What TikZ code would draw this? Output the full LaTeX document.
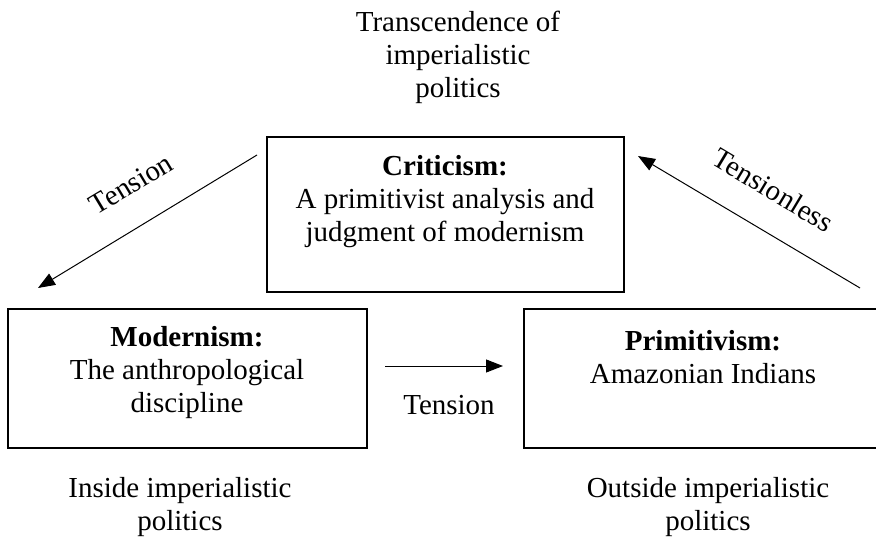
\documentclass[tikz,border=0pt]{standalone}
\usepackage{fontspec}
\setmainfont{Liberation Serif}
\usetikzlibrary{arrows.meta}
\begin{document}
\begin{tikzpicture}[x=1pt,y=-1pt,
  box/.style={draw,line width=1.3pt,minimum width=#1,inner sep=0pt},
  txt/.style={align=center,inner sep=0pt,font=\fontsize{29}{33}\selectfont},
  arr/.style={line width=1pt,-{Triangle[length=17pt,width=13pt]}}]
\useasboundingbox (0,0) rectangle (876,538);
\clip (0,0) rectangle (876,538);
\fill[white] (0,0) rectangle (876,538);
% boxes
\node[box=357pt,minimum height=155pt] (crit) at (445.5,214.5) {};
\node[box=359pt,minimum height=139pt] (mod) at (187.5,378.5) {};
\node[box=359pt,minimum height=139pt] (prim) at (703.5,378.5) {};
% texts
\node[txt] (critT) at (445,202) {\textbf{Criticism:}\\A primitivist analysis and\\judgment of modernism};
\node[txt] (modT) at (187,373) {\textbf{Modernism:}\\The anthropological\\discipline};
\node[txt] (primT) at (703,357) {\textbf{Primitivism:}\\Amazonian Indians};
\node[txt] (top) at (458,57) {Transcendence of\\imperialistic\\politics};
\node[txt] (inside) at (180,507) {Inside imperialistic\\politics};
\node[txt] (outside) at (708,507) {Outside imperialistic\\politics};
% connectors
\coordinate (a1) at (257,155);
\coordinate (b1) at (38,288);
\coordinate (a2) at (860,288);
\coordinate (b2) at (638,156);
\coordinate (a3) at (385,366);
\coordinate (b3) at (503,366);
\draw[arr] (a1) -- (b1);
\draw[arr] (a2) -- (b2);
\draw[arr] (a3) -- (b3);
\node[txt,rotate=31] (lt1) at (131,184) {Tension};
\node[txt,rotate=-31] (lt2) at (773,190) {Tensionless};
\node[txt] (lt3) at (449,405) {Tension};
\end{tikzpicture}
\end{document}
